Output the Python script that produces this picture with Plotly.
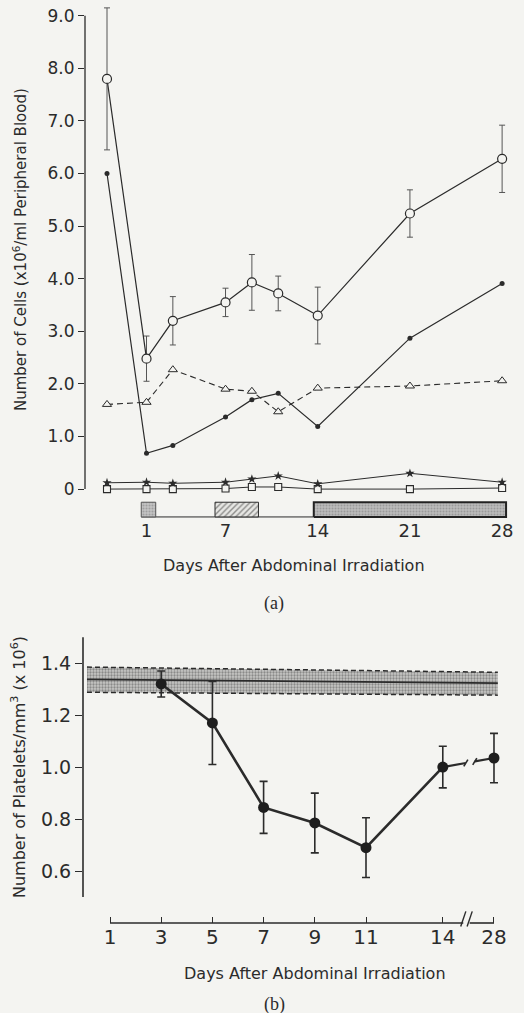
import plotly.graph_objects as go

W, H = 524, 1013
BG = "#f4f4f1"
INK = "#2b2b2b"
FONT = "DejaVu Sans"

# ---------------- Panel (a) data ----------------
days_a = [-2, 1, 3, 7, 9, 11, 14, 21, 28]
open_circles = [7.80, 2.48, 3.20, 3.55, 3.93, 3.72, 3.30, 5.24, 6.28]
open_circles_err = [1.35, 0.43, 0.46, 0.27, 0.53, 0.33, 0.54, 0.45, 0.64]
filled_dots = [6.00, 0.68, 0.83, 1.37, 1.70, 1.82, 1.19, 2.87, 3.91]
open_triangles = [1.61, 1.65, 2.27, 1.90, 1.86, 1.47, 1.92, 1.96, 2.06]
filled_stars = [0.12, 0.13, 0.11, 0.13, 0.19, 0.25, 0.10, 0.30, 0.13]
open_squares = [0.00, 0.00, 0.00, 0.01, 0.04, 0.04, 0.00, 0.00, 0.02]

tick_days_a = [1, 7, 14, 21, 28]
y_ticks_a = [0, 1, 2, 3, 4, 5, 6, 7, 8, 9]
y_ticktext_a = ["0", "1.0", "2.0", "3.0", "4.0", "5.0", "6.0", "7.0", "8.0", "9.0"]

# treatment periods (days)
period_start = [0.6, 6.2, 13.7]
period_end = [1.7, 9.5, 28.3]

# ---------------- Panel (b) data ----------------
days_b = [3, 5, 7, 9, 11, 14, 28]
platelets = [1.32, 1.17, 0.845, 0.785, 0.69, 1.00, 1.035]
platelets_err = [0.05, 0.16, 0.10, 0.115, 0.115, 0.08, 0.095]
tick_days_b = [1, 3, 5, 7, 9, 11, 14, 28]
y_ticks_b = [0.6, 0.8, 1.0, 1.2, 1.4]
y_ticktext_b = ["0.6", "0.8", "1.0", "1.2", "1.4"]
normal_x = [0.1, 16.15]          # axis positions of the normal band
normal_upper = [1.385, 1.365]
normal_mean = [1.338, 1.323]
normal_lower = [1.288, 1.277]

BREAK_POS = 16  # axis position used for day 28 (broken axis)


def pos_b(d):
    return d if d <= 14 else BREAK_POS


pos_days_b = [pos_b(d) for d in days_b]

fig = go.Figure()

# ---- Panel (a) traces ----
fig.add_trace(go.Scatter(
    x=days_a, y=open_squares, mode="lines+markers", xaxis="x", yaxis="y",
    line=dict(color=INK, width=1),
    marker=dict(symbol="square", size=7, color=BG, line=dict(color=INK, width=1.1))))
fig.add_trace(go.Scatter(
    x=days_a, y=filled_stars, mode="lines+markers", xaxis="x", yaxis="y",
    line=dict(color=INK, width=1),
    marker=dict(symbol="star", size=7, color=INK, line=dict(width=0))))
fig.add_trace(go.Scatter(
    x=days_a, y=open_triangles, mode="lines+markers", xaxis="x", yaxis="y",
    line=dict(color=INK, width=1.1, dash="6px,4px"),
    marker=dict(symbol="triangle-up", size=8, color=BG, line=dict(color=INK, width=1))))
fig.add_trace(go.Scatter(
    x=days_a, y=filled_dots, mode="lines+markers", xaxis="x", yaxis="y",
    line=dict(color=INK, width=1.2),
    marker=dict(symbol="circle", size=5, color=INK)))
fig.add_trace(go.Scatter(
    x=days_a, y=open_circles, mode="lines+markers", xaxis="x", yaxis="y",
    line=dict(color=INK, width=1.2),
    error_y=dict(type="data", array=open_circles_err, color="#555", thickness=1, width=3),
    marker=dict(symbol="circle", size=9, color=BG, line=dict(color=INK, width=1.2))))

# treatment bars below panel (a)
BAR_TOP, BAR_BOT = -0.25, -0.53
fig.add_trace(go.Scatter(
    x=[period_start[0], period_start[2]], y=[BAR_BOT, BAR_BOT], mode="lines",
    xaxis="x", yaxis="y", line=dict(color=INK, width=1)))
bar_styles = [
    dict(fillpattern=dict(shape=".", bgcolor="#c4c4c4", fgcolor="#7a7a7a", size=3, solidity=0.4),
         line=dict(color="#555", width=1)),
    dict(fillpattern=dict(shape="/", bgcolor="#e6e6e3", fgcolor="#333", size=4, solidity=0.35),
         line=dict(color=INK, width=1)),
    dict(fillpattern=dict(shape=".", bgcolor="#bdbdbd", fgcolor="#777", size=3, solidity=0.4),
         line=dict(color="#222", width=2)),
]
for s, e, st in zip(period_start, period_end, bar_styles):
    fig.add_trace(go.Scatter(
        x=[s, e, e, s, s], y=[BAR_BOT, BAR_BOT, BAR_TOP, BAR_TOP, BAR_BOT],
        mode="lines", fill="toself", xaxis="x", yaxis="y",
        fillcolor=st["fillpattern"]["bgcolor"], fillpattern=st["fillpattern"],
        line=st["line"]))

# ---- Panel (b) traces ----
fig.add_trace(go.Scatter(
    x=normal_x + normal_x[::-1], y=normal_lower + normal_upper[::-1],
    mode="lines", fill="toself", xaxis="x2", yaxis="y2",
    fillcolor="#bcbcbc",
    fillpattern=dict(shape=".", bgcolor="#c6c6c4", fgcolor="#4e4e4e", size=3, solidity=0.45),
    line=dict(width=0)))
for arr, dash, wd in [(normal_upper, "5px,3px", 1.5), (normal_lower, "5px,3px", 1.5),
                      (normal_mean, "solid", 1.8)]:
    fig.add_trace(go.Scatter(
        x=normal_x, y=arr, mode="lines", xaxis="x2", yaxis="y2",
        line=dict(color=INK, width=wd, dash=dash)))

# main line (days 3..14)
n14 = days_b.index(14)
fig.add_trace(go.Scatter(
    x=pos_days_b[:n14 + 1], y=platelets[:n14 + 1], mode="lines", xaxis="x2", yaxis="y2",
    line=dict(color=INK, width=2.6)))
# broken segment 14 -> 28
p0, p1 = pos_days_b[n14], pos_days_b[n14 + 1]
v0, v1 = platelets[n14], platelets[n14 + 1]
ga, gb = 14.9, 15.25


def interp(p):
    return v0 + (v1 - v0) * (p - p0) / (p1 - p0)


for a, b in [(p0, ga), (gb, p1)]:
    fig.add_trace(go.Scatter(
        x=[a, b], y=[interp(a), interp(b)], mode="lines", xaxis="x2", yaxis="y2",
        line=dict(color=INK, width=2.2)))
fig.add_trace(go.Scatter(
    x=pos_days_b, y=platelets, mode="markers", xaxis="x2", yaxis="y2",
    error_y=dict(type="data", array=platelets_err, color=INK, thickness=1.6, width=4),
    marker=dict(symbol="circle", size=11, color="#1e1e1e")))

shapes = []
# slashes on broken data line
for g in [ga, gb]:
    shapes.append(dict(type="line", xref="x2", yref="y2",
                       x0=g - 0.08, x1=g + 0.08, y0=interp(g) - 0.013, y1=interp(g) + 0.013,
                       line=dict(color=INK, width=1.6)))
# spine of y axis (a)
shapes.append(dict(type="line", xref="x domain", yref="y", x0=0, x1=0, y0=0, y1=9,
                   line=dict(color=INK, width=1.3)))
# spine of y axis (b)
shapes.append(dict(type="line", xref="x2 domain", yref="y2", x0=0, x1=0, y0=0.5, y1=1.5,
                   line=dict(color=INK, width=1.6)))
# x axis line (b) with break
xa, xb = 14.8, 15.05
shapes.append(dict(type="line", xref="x2", yref="y2 domain", x0=1, x1=xa, y0=0, y1=0,
                   line=dict(color=INK, width=1.6)))
shapes.append(dict(type="line", xref="x2", yref="y2 domain", x0=xb, x1=BREAK_POS, y0=0, y1=0,
                   line=dict(color=INK, width=1.6)))
for g in [xa, xb]:
    shapes.append(dict(type="line", xref="x2", yref="y2 domain",
                       x0=g - 0.1, x1=g + 0.1, y0=-0.012, y1=0.04,
                       line=dict(color=INK, width=1.4)))


def px(xp):
    return xp / W


def py(yp):
    return 1 - yp / H


annotations = [
    dict(text="Number of Cells (x10<sup>6</sup>/ml Peripheral Blood)", x=px(20), y=py(250),
         textangle=-90, font=dict(size=15, family=FONT, color=INK)),
    dict(text="Days After Abdominal Irradiation", x=px(294), y=py(565),
         font=dict(size=16, family=FONT, color=INK)),
    dict(text="(a)", x=px(274), y=py(603),
         font=dict(size=18, family="Liberation Serif", color=INK)),
    dict(text="Number of Platelets/mm<sup>3</sup> (x 10<sup>6</sup>)", x=px(18), y=py(767),
         textangle=-90, font=dict(size=16, family=FONT, color=INK)),
    dict(text="Days After Abdominal Irradiation", x=px(315), y=py(973),
         font=dict(size=16, family=FONT, color=INK)),
    dict(text="(b)", x=px(274), y=py(1004),
         font=dict(size=18, family="Liberation Serif", color=INK)),
]
for a in annotations:
    a.update(xref="paper", yref="paper", showarrow=False, xanchor="center", yanchor="middle")

fig.update_layout(
    width=W, height=H, margin=dict(l=0, r=0, t=0, b=0),
    paper_bgcolor=BG, plot_bgcolor=BG, showlegend=False,
    font=dict(family=FONT, color=INK),
    shapes=shapes, annotations=annotations,
    xaxis=dict(domain=[85 / W, 512 / W], range=[-3.67, 28.75], anchor="y",
               tickmode="array", tickvals=tick_days_a, ticktext=[str(d) for d in tick_days_a],
               ticks="", showline=False, showgrid=False, zeroline=False,
               tickfont=dict(size=18, family=FONT, color=INK), automargin=False),
    yaxis=dict(domain=[1 - 518 / H, 1.0], range=[-0.55, 9.3], anchor="x",
               tickmode="array", tickvals=y_ticks_a, ticktext=y_ticktext_a,
               ticks="outside", ticklen=6, tickwidth=1.2, tickcolor=INK,
               showline=False, showgrid=False, zeroline=False,
               tickfont=dict(size=17, family=FONT, color=INK), automargin=False),
    xaxis2=dict(domain=[83 / W, 505 / W], range=[-0.055, 16.43], anchor="y2",
                tickmode="array", tickvals=[pos_b(d) for d in tick_days_b],
                ticktext=[str(d) for d in tick_days_b],
                ticks="inside", ticklen=6, tickwidth=1.4, tickcolor=INK,
                showline=False, showgrid=False, zeroline=False,
                tickfont=dict(size=20, family=FONT, color=INK), automargin=False),
    yaxis2=dict(domain=[1 - 923 / H, 1 - 632 / H], range=[0.4, 1.52], anchor="x2",
                tickmode="array", tickvals=y_ticks_b, ticktext=y_ticktext_b,
                ticks="outside", ticklen=7, tickwidth=1.4, tickcolor=INK,
                showline=False, showgrid=False, zeroline=False,
                tickfont=dict(size=19, family=FONT, color=INK), automargin=False),
)

fig.write_html("out.html")
